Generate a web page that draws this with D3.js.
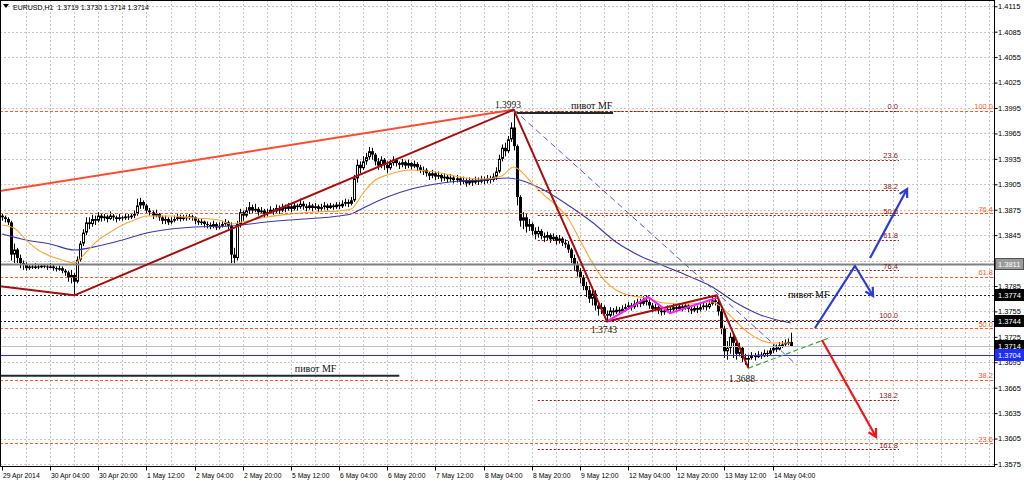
<!DOCTYPE html>
<html><head><meta charset="utf-8">
<script src="https://cdn.jsdelivr.net/npm/d3@7/dist/d3.min.js"></script>
<style>html,body{margin:0;padding:0;background:#fff;overflow:hidden}</style>
</head><body>
<svg id="chart" width="1024" height="482"></svg>
<script>
// ---------------- DATA ----------------
const symbol = "EURUSD,H1";
const firstOpen = 1.3868;
const closes = [
1.3866,1.3864,1.3860,1.3822,1.3828,1.3818,1.3812,1.3810,1.3806,1.3808,
1.3807,1.3808,1.3807,1.3809,1.3808,1.3807,1.3808,1.3806,1.3805,1.3806,
1.3803,1.3801,1.3795,1.3798,1.3790,1.3816,1.3835,1.3848,1.3860,1.3858,
1.3864,1.3862,1.3868,1.3865,1.3867,1.3864,1.3868,1.3866,1.3864,1.3866,
1.3865,1.3867,1.3866,1.3868,1.3870,1.3880,1.3884,1.3880,1.3874,1.3872,
1.3868,1.3870,1.3866,1.3862,1.3864,1.3860,1.3862,1.3864,1.3866,1.3864,
1.3866,1.3865,1.3867,1.3866,1.3862,1.3860,1.3861,1.3858,1.3857,1.3855,
1.3858,1.3854,1.3856,1.3858,1.3860,1.3856,1.3822,1.3818,1.3858,1.3872,
1.3868,1.3874,1.3878,1.3874,1.3876,1.3872,1.3874,1.3870,1.3872,1.3875,
1.3873,1.3877,1.3874,1.3878,1.3876,1.3879,1.3876,1.3880,1.3878,1.3882,
1.3879,1.3877,1.3880,1.3877,1.3879,1.3876,1.3878,1.3880,1.3877,1.3880,
1.3878,1.3881,1.3879,1.3882,1.3884,1.3882,1.3886,1.3912,1.3928,1.3924,
1.3932,1.3937,1.3944,1.3940,1.3932,1.3927,1.3934,1.3928,1.3924,1.3930,
1.3934,1.3930,1.3928,1.3931,1.3927,1.3930,1.3926,1.3929,1.3925,1.3922,
1.3922,1.3918,1.3915,1.3918,1.3914,1.3916,1.3912,1.3914,1.3911,1.3913,
1.3910,1.3912,1.3908,1.3910,1.3906,1.3909,1.3907,1.3910,1.3908,1.3911,
1.3909,1.3912,1.3910,1.3914,1.3920,1.3935,1.3948,1.3944,1.3958,1.3972,
1.3950,1.3890,1.3862,1.3866,1.3855,1.3858,1.3850,1.3846,1.3850,1.3844,
1.3842,1.3845,1.3840,1.3843,1.3838,1.3841,1.3836,1.3834,1.3828,1.3818,
1.3810,1.3802,1.3795,1.3785,1.3780,1.3770,1.3776,1.3762,1.3758,1.3760,
1.3752,1.3750,1.3756,1.3754,1.3757,1.3755,1.3758,1.3760,1.3762,1.3760,
1.3764,1.3766,1.3764,1.3768,1.3766,1.3762,1.3758,1.3760,1.3756,1.3754,
1.3756,1.3758,1.3757,1.3760,1.3758,1.3761,1.3759,1.3762,1.3758,1.3756,
1.3759,1.3757,1.3760,1.3762,1.3760,1.3764,1.3768,1.3766,1.3755,1.3735,
1.3708,1.3712,1.3725,1.3718,1.3705,1.3712,1.3700,1.3698,1.3700,1.3703,
1.3701,1.3704,1.3702,1.3706,1.3705,1.3709,1.3712,1.3710,1.3715,1.3716,
1.3718,1.3719,1.3714];
const highs = [
1.3870,1.3868,1.3866,1.3862,1.3835,1.3830,1.3822,1.3815,1.3813,1.3811,
1.3811,1.3812,1.3810,1.3811,1.3811,1.3810,1.3812,1.3810,1.3808,1.3809,
1.3808,1.3805,1.3803,1.3804,1.3800,1.3820,1.3838,1.3852,1.3866,1.3866,
1.3869,1.3868,1.3872,1.3871,1.3870,1.3869,1.3873,1.3870,1.3868,1.3870,
1.3868,1.3870,1.3870,1.3871,1.3874,1.3888,1.3889,1.3886,1.3882,1.3877,
1.3874,1.3875,1.3871,1.3868,1.3868,1.3866,1.3866,1.3868,1.3870,1.3869,
1.3869,1.3869,1.3870,1.3869,1.3867,1.3865,1.3864,1.3862,1.3861,1.3860,
1.3862,1.3860,1.3860,1.3862,1.3864,1.3862,1.3860,1.3830,1.3862,1.3876,
1.3874,1.3878,1.3884,1.3881,1.3882,1.3878,1.3878,1.3876,1.3876,1.3879,
1.3877,1.3881,1.3880,1.3882,1.3881,1.3883,1.3882,1.3884,1.3882,1.3888,
1.3885,1.3882,1.3884,1.3882,1.3883,1.3881,1.3882,1.3884,1.3882,1.3883,
1.3882,1.3884,1.3884,1.3886,1.3888,1.3887,1.3890,1.3916,1.3934,1.3932,
1.3938,1.3942,1.3949,1.3948,1.3942,1.3936,1.3938,1.3936,1.3932,1.3934,
1.3938,1.3936,1.3932,1.3935,1.3933,1.3934,1.3931,1.3933,1.3931,1.3928,
1.3926,1.3924,1.3920,1.3922,1.3920,1.3920,1.3918,1.3918,1.3916,1.3917,
1.3915,1.3916,1.3914,1.3914,1.3912,1.3913,1.3911,1.3914,1.3913,1.3915,
1.3914,1.3916,1.3915,1.3918,1.3925,1.3940,1.3952,1.3954,1.3962,1.3978,
1.3993,1.3952,1.3892,1.3872,1.3870,1.3864,1.3860,1.3854,1.3855,1.3852,
1.3848,1.3849,1.3847,1.3847,1.3845,1.3845,1.3843,1.3840,1.3838,1.3830,
1.3822,1.3814,1.3806,1.3798,1.3790,1.3785,1.3782,1.3780,1.3766,1.3765,
1.3762,1.3756,1.3760,1.3759,1.3761,1.3760,1.3762,1.3764,1.3766,1.3765,
1.3768,1.3770,1.3770,1.3773,1.3774,1.3770,1.3765,1.3764,1.3762,1.3760,
1.3760,1.3762,1.3761,1.3764,1.3763,1.3765,1.3764,1.3766,1.3764,1.3762,
1.3763,1.3762,1.3764,1.3766,1.3765,1.3768,1.3772,1.3774,1.3768,1.3758,
1.3738,1.3720,1.3730,1.3728,1.3722,1.3718,1.3714,1.3705,1.3704,1.3707,
1.3706,1.3708,1.3707,1.3710,1.3709,1.3712,1.3716,1.3716,1.3719,1.3720,
1.3722,1.3723,1.3730];
const lows = [
1.3862,1.3860,1.3857,1.3815,1.3812,1.3812,1.3806,1.3804,1.3803,1.3804,
1.3805,1.3805,1.3805,1.3806,1.3806,1.3804,1.3806,1.3803,1.3802,1.3803,
1.3800,1.3797,1.3790,1.3788,1.3774,1.3788,1.3814,1.3832,1.3845,1.3852,
1.3855,1.3857,1.3860,1.3861,1.3862,1.3860,1.3863,1.3862,1.3860,1.3862,
1.3862,1.3863,1.3863,1.3864,1.3865,1.3868,1.3876,1.3876,1.3870,1.3868,
1.3864,1.3866,1.3862,1.3858,1.3858,1.3857,1.3858,1.3860,1.3862,1.3861,
1.3862,1.3862,1.3863,1.3862,1.3858,1.3857,1.3857,1.3854,1.3853,1.3852,
1.3853,1.3851,1.3852,1.3854,1.3856,1.3852,1.3812,1.3812,1.3815,1.3854,
1.3862,1.3866,1.3870,1.3870,1.3872,1.3868,1.3870,1.3866,1.3867,1.3870,
1.3869,1.3871,1.3870,1.3872,1.3872,1.3874,1.3872,1.3874,1.3874,1.3876,
1.3875,1.3873,1.3875,1.3873,1.3875,1.3872,1.3874,1.3875,1.3874,1.3876,
1.3875,1.3876,1.3876,1.3877,1.3879,1.3878,1.3880,1.3884,1.3907,1.3918,
1.3922,1.3928,1.3934,1.3934,1.3927,1.3922,1.3924,1.3922,1.3918,1.3922,
1.3927,1.3926,1.3923,1.3925,1.3923,1.3924,1.3922,1.3924,1.3921,1.3918,
1.3916,1.3914,1.3910,1.3912,1.3910,1.3911,1.3908,1.3909,1.3907,1.3908,
1.3906,1.3907,1.3904,1.3905,1.3902,1.3904,1.3903,1.3905,1.3904,1.3906,
1.3905,1.3906,1.3906,1.3908,1.3910,1.3918,1.3932,1.3938,1.3942,1.3955,
1.3945,1.3880,1.3855,1.3852,1.3848,1.3850,1.3845,1.3840,1.3842,1.3840,
1.3837,1.3839,1.3836,1.3838,1.3834,1.3835,1.3832,1.3830,1.3824,1.3812,
1.3804,1.3796,1.3788,1.3780,1.3772,1.3765,1.3762,1.3756,1.3750,1.3752,
1.3747,1.3743,1.3748,1.3750,1.3752,1.3751,1.3753,1.3755,1.3757,1.3756,
1.3758,1.3760,1.3760,1.3762,1.3762,1.3758,1.3754,1.3755,1.3752,1.3750,
1.3751,1.3754,1.3753,1.3755,1.3754,1.3756,1.3755,1.3757,1.3754,1.3752,
1.3754,1.3753,1.3755,1.3757,1.3756,1.3758,1.3762,1.3762,1.3750,1.3728,
1.3700,1.3698,1.3705,1.3700,1.3698,1.3702,1.3695,1.3692,1.3688,1.3698,
1.3697,1.3700,1.3699,1.3701,1.3701,1.3703,1.3706,1.3707,1.3709,1.3712,
1.3713,1.3715,1.3714];

const xTickBars = [0,16,32,48,64,80,96,112,128,144,160,176,192,208,224,240,256];
const xTickLabels = ["29 Apr 2014","30 Apr 04:00","30 Apr 20:00","1 May 12:00","2 May 04:00","2 May 20:00",
  "5 May 12:00","6 May 04:00","6 May 20:00","7 May 12:00","8 May 04:00","8 May 20:00","9 May 12:00",
  "12 May 04:00","12 May 20:00","13 May 12:00","14 May 04:00"];
const priceTicks = [1.4115,1.4085,1.4055,1.4025,1.3995,1.3965,1.3935,1.3905,1.3875,1.3845,1.3815,
  1.3785,1.3755,1.3725,1.3695,1.3665,1.3635,1.3605,1.3575];

// moving averages (bar index, price)
const maFastBars = [0,4,8,12,16,20,24,28,32,36,40,44,48,56,64,72,76,80,88,96,104,112,116,120,124,128,136,144,152,160,166,170,172,176,180,184,188,192,196,200,204,208,214,220,228,236,240,244,248,252,256,262];
const maFastValues = [1.3857,1.38534,1.38393,1.38275,1.38204,1.38157,1.38121,1.38251,1.38393,1.38487,1.3857,1.38629,1.38676,1.38676,1.38652,1.38629,1.38581,1.38605,1.38664,1.38699,1.38723,1.38735,1.38758,1.38947,1.39101,1.3916,1.39219,1.39195,1.39136,1.39112,1.39148,1.39254,1.39219,1.39065,1.38924,1.38806,1.38652,1.38393,1.38133,1.37921,1.37803,1.37744,1.37708,1.37649,1.37638,1.37661,1.37567,1.37425,1.37296,1.37213,1.37178,1.37178];
const maSlowBars = [0,8,16,24,32,40,48,56,64,76,88,100,112,116,120,128,136,144,152,160,168,172,180,188,196,204,212,220,228,236,244,252,262];
const maSlowValues = [1.38463,1.38393,1.38346,1.38275,1.38322,1.38393,1.38475,1.38522,1.38546,1.38558,1.38605,1.3864,1.38676,1.38699,1.3877,1.389,1.38994,1.39053,1.39089,1.39101,1.39124,1.39101,1.38983,1.38806,1.38605,1.38369,1.38204,1.38086,1.37968,1.37838,1.37649,1.37508,1.37413];

// Fibonacci sets
const fibALevels = [100,76.4,61.8,50,38.2,23.6];
const fibAHigh = 1.3992, fibALow = 1.3478;
const fibBLevels = [0,23.6,38.2,50,61.8,76.4,100,138.2,161.8];
const fibBHigh = 1.3992, fibBLow = 1.3745, fibBFromBar = 178, fibBToBar = 298;

// horizontal levels
const levelGrey = 1.3811, levelPivotA = 1.3774, levelPivotB = 1.3744, levelBlue = 1.3704;

// trend lines (bar index, price)
const trendOrange = [[-1,1.38968],[170,1.3993]];
const trendDarkRed = [[-1,1.37847],[24,1.3774],[170,1.3993],[201,1.3743],[237.5,1.3774],[248,1.3688]];
const trendBlueDash = [[170,1.3993],[264,1.3692]];
const trendMagenta = [[201.4,1.3744],[214.7,1.3772],[221.9,1.3753],[237.4,1.3771]];
const trendGreenDash = [[248,1.3688],[275,1.3724]];
const arrowBlueDown = [[270.1,1.37354],[283.4,1.38086],[289.4,1.37732]];
const arrowBlueUp = [[288.4,1.3818],[300.7,1.38994]];
const arrowRed = [[272.4,1.37213],[290.4,1.36068]];
const pivotTopLine = {from:171, to:203, price:1.3989};
const pivotLowLine = {from:-1, to:132, price:1.3679};
const textNotes = [
  {t:"пивот MF", bar:189, price:1.39938, anchor:"start"},
  {t:"пивот MF", bar:261.1, price:1.37708, anchor:"start"},
  {t:"пивот MF", bar:97.3, price:1.36835, anchor:"start"},
  {t:"1.3993", bar:168.1, price:1.3995, anchor:"middle"},
  {t:"1.3743", bar:200, price:1.37295, anchor:"middle"},
  {t:"1.3688", bar:245.8, price:1.36717, anchor:"middle"}
];

// ---------------- DRAW ----------------
const W = 1024, H = 482, PW = 994, PH = 466;
const FONT = "Liberation Sans";
const svg = d3.select("#chart");
const x = d3.scaleLinear().domain([0, 330]).range([2, 2 + 3.01 * 330]);
const y = d3.scaleLinear().domain([1.35726, 1.41224]).range([PH, 0]);
const crisp = v => Math.round(v) + 0.5;

svg.append("rect").attr("width", W).attr("height", H).attr("fill", "#fff");
svg.append("defs").append("clipPath").attr("id", "plot").append("rect").attr("x", 0).attr("y", 0).attr("width", PW).attr("height", PH);
const plot = svg.append("g").attr("clip-path", "url(#plot)");

// grid
const gridV = [];
for (let b = 8; x(b) < PW; b += 8) gridV.push(b);
plot.append("g").selectAll("line").data(gridV).join("line")
  .attr("x1", d => crisp(x(d))).attr("x2", d => crisp(x(d))).attr("y1", 0).attr("y2", PH)
  .attr("stroke", "#c6c6c6").attr("stroke-dasharray", "2,2");
plot.append("g").selectAll("line").data(priceTicks).join("line")
  .attr("x1", 0).attr("x2", PW).attr("y1", d => crisp(y(d))).attr("y2", d => crisp(y(d)))
  .attr("stroke", "#c6c6c6").attr("stroke-dasharray", "2,2");

// candles
const bars = closes.map((c, i) => ({ i, o: i ? closes[i - 1] : firstOpen, h: highs[i], l: lows[i], c }));
const cg = plot.append("g");
cg.selectAll("line").data(bars).join("line")
  .attr("x1", d => Math.round(x(d.i)) + 0.5).attr("x2", d => Math.round(x(d.i)) + 0.5)
  .attr("y1", d => y(d.h)).attr("y2", d => y(d.l)).attr("stroke", "#000").attr("stroke-width", 1);
cg.selectAll("rect").data(bars).join("rect")
  .attr("x", d => d.c >= d.o ? Math.round(x(d.i)) - 0.5 : Math.round(x(d.i)) - 1)
  .attr("width", d => d.c >= d.o ? 2 : 3)
  .attr("y", d => d.c >= d.o ? y(d.c) + 0.5 : y(d.o))
  .attr("height", d => Math.max(d.c >= d.o ? 0.5 : 1, Math.abs(y(d.o) - y(d.c)) - (d.c >= d.o ? 1 : 0)))
  .attr("fill", d => d.c >= d.o ? "#fff" : "#000")
  .attr("stroke", d => d.c >= d.o ? "#000" : "none").attr("stroke-width", 1);

// moving averages
const maLine = d3.line().x(d => x(d[0])).y(d => y(d[1])).curve(d3.curveMonotoneX);
plot.append("path").datum(d3.zip(maSlowBars, maSlowValues)).attr("d", maLine)
  .attr("fill", "none").attr("stroke", "#3a3aa8").attr("stroke-width", 1.1);
plot.append("path").datum(d3.zip(maFastBars, maFastValues)).attr("d", maLine)
  .attr("fill", "none").attr("stroke", "#ffa532").attr("stroke-width", 1.1);

// horizontal levels
function hline(p, col, w, dash, x0 = 0, x1 = PW) {
  plot.append("line").attr("x1", x0).attr("x2", x1).attr("y1", crisp(y(p))).attr("y2", crisp(y(p)))
    .attr("stroke", col).attr("stroke-width", w).attr("stroke-dasharray", dash || null);
}
const lastClose = closes[closes.length - 1];
hline(lastClose, "#c0c0c0", 1);
hline(levelBlue, "#2a2af0", 1);

// Fibonacci A (full width, labels on right)
const fibAPrice = l => fibALow + (fibAHigh - fibALow) * l / 100;
fibALevels.forEach(l => hline(fibAPrice(l), "#ff5a2a", 1, "3,2"));
// Fibonacci B
const fibBPrice = l => fibBHigh - (fibBHigh - fibBLow) * l / 100;
fibBLevels.forEach(l => hline(fibBPrice(l), "#8e1414", 1, "2,2", x(fibBFromBar), x(fibBToBar)));

hline(levelGrey, "#808080", 2);
hline(levelPivotA, "#222", 1, "2,2");
hline(levelPivotB, "#222", 1, "2,2");

// trend lines
const tl = d3.line().x(d => x(d[0])).y(d => y(d[1]));
plot.append("path").datum(trendOrange).attr("d", tl).attr("fill", "none").attr("stroke", "#ff4a30").attr("stroke-width", 2);
plot.append("path").datum(trendDarkRed).attr("d", tl).attr("fill", "none").attr("stroke", "#a80c0c").attr("stroke-width", 2).attr("stroke-linejoin", "round");
plot.append("path").datum(trendBlueDash).attr("d", tl).attr("fill", "none").attr("stroke", "#4a5ad0").attr("stroke-width", 1).attr("stroke-dasharray", "6,4");
plot.append("path").datum(trendMagenta).attr("d", tl).attr("fill", "none").attr("stroke", "#ff18ff").attr("stroke-width", 2);
plot.append("path").datum(trendGreenDash).attr("d", tl).attr("fill", "none").attr("stroke", "#3aa83a").attr("stroke-width", 1.2).attr("stroke-dasharray", "5,3");

// pivot lines
[pivotTopLine, pivotLowLine].forEach(p =>
  plot.append("line").attr("x1", x(p.from)).attr("x2", x(p.to)).attr("y1", y(p.price)).attr("y2", y(p.price))
    .attr("stroke", "#1c2a2a").attr("stroke-width", 2));

// arrows
function arrow(pts, col) {
  const px = pts.map(d => [x(d[0]), y(d[1])]);
  plot.append("path").attr("d", d3.line()(px)).attr("fill", "none").attr("stroke", col).attr("stroke-width", 2.2).attr("stroke-linejoin", "round");
  const [a, b] = px.slice(-2);
  const ang = Math.atan2(b[1] - a[1], b[0] - a[0]);
  const L = 9, s = 0.5;
  const h1 = [b[0] - L * Math.cos(ang - s), b[1] - L * Math.sin(ang - s)];
  const h2 = [b[0] - L * Math.cos(ang + s), b[1] - L * Math.sin(ang + s)];
  plot.append("path").attr("d", d3.line()([h1, b, h2])).attr("fill", "none").attr("stroke", col).attr("stroke-width", 2.2).attr("stroke-linejoin", "miter");
}
arrow(arrowBlueDown, "#2b3bd8");
arrow(arrowBlueUp, "#2b3bd8");
arrow(arrowRed, "#ee1818");

// fib labels
plot.append("g").selectAll("text").data(fibALevels).join("text")
  .attr("x", 993).attr("y", d => y(fibAPrice(d)) - 1.5).attr("text-anchor", "end")
  .attr("font-family", FONT).attr("font-size", 7.5).attr("fill", "#ff5a2a").text(d => d.toFixed(1));
plot.append("g").selectAll("text").data(fibBLevels).join("text")
  .attr("x", x(fibBToBar) - 1).attr("y", d => y(fibBPrice(d)) - 1.5).attr("text-anchor", "end")
  .attr("font-family", FONT).attr("font-size", 7.5).attr("fill", "#8e1414").text(d => d.toFixed(1));

// text notes
plot.append("g").selectAll("text").data(textNotes).join("text")
  .attr("x", d => x(d.bar)).attr("y", d => y(d.price)).attr("text-anchor", d => d.anchor)
  .attr("font-family", "Liberation Serif").attr("font-size", d => d.t.startsWith("1.") ? 9.5 : 10)
  .attr("fill", "#111").text(d => d.t);

// title
svg.append("path").attr("d", "M3,4L9,4L6,8Z").attr("fill", "#000");
const o = closes[closes.length - 2];
svg.append("text").attr("x", 13).attr("y", 10).attr("font-family", FONT).attr("font-size", 7).attr("fill", "#000")
  .attr("xml:space", "preserve")
  .text(`${symbol}  ${o.toFixed(4)} ${highs[highs.length-1].toFixed(4)} ${lows[lows.length-1].toFixed(4)} ${lastClose.toFixed(4)}`);

// frame
svg.append("rect").attr("x", 0.5).attr("y", 0.5).attr("width", PW).attr("height", PH)
  .attr("fill", "none").attr("stroke", "#000");

// price axis
const ya = svg.append("g").attr("transform", `translate(${PW + 0.5},0)`)
  .call(d3.axisRight(y).tickValues(priceTicks).tickSize(3).tickFormat(d3.format(".4f")));
ya.select(".domain").remove();
ya.selectAll("line").attr("stroke", "#000");
ya.selectAll("text").attr("x", 3.5).attr("font-family", FONT).attr("font-size", 7.5).attr("fill", "#000");

// price boxes
const boxes = [
  { p: levelGrey, fill: "#9a9a9a", stroke: "#555", col: "#fff" },
  { p: levelPivotA, fill: "#000", stroke: "#000", col: "#fff" },
  { p: levelPivotB, fill: "#000", stroke: "#000", col: "#fff" },
  { p: lastClose, fill: "#000", stroke: "#000", col: "#fff" },
  { p: levelBlue, fill: "#1e2eff", stroke: "#1e2eff", col: "#fff" }
];
const bg = svg.append("g").selectAll("g").data(boxes).join("g").attr("transform", d => `translate(995,${Math.round(y(d.p))})`);
bg.append("rect").attr("x", 0.5).attr("y", -5.5).attr("width", 28).attr("height", 11).attr("fill", d => d.fill).attr("stroke", d => d.stroke);
bg.append("text").attr("x", 3).attr("y", 3).attr("font-family", FONT).attr("font-size", 7.5).attr("fill", d => d.col).text(d => d.p.toFixed(4));

// time axis
const xa = svg.append("g").attr("transform", `translate(0,${PH + 0.5})`)
  .call(d3.axisBottom(x).tickValues(xTickBars).tickSize(4).tickFormat((d, i) => xTickLabels[i]));
xa.select(".domain").remove();
xa.selectAll("line").attr("stroke", "#000").attr("transform", "translate(0.5,0)");
xa.selectAll(".tick").attr("transform", d => `translate(${Math.round(x(d))},0)`);
xa.selectAll("text").attr("text-anchor", "start").attr("x", 1).attr("y", 11.5).attr("dy", 0)
  .attr("font-family", FONT).attr("font-size", 6.8).attr("fill", "#000");
</script>
</body></html>
